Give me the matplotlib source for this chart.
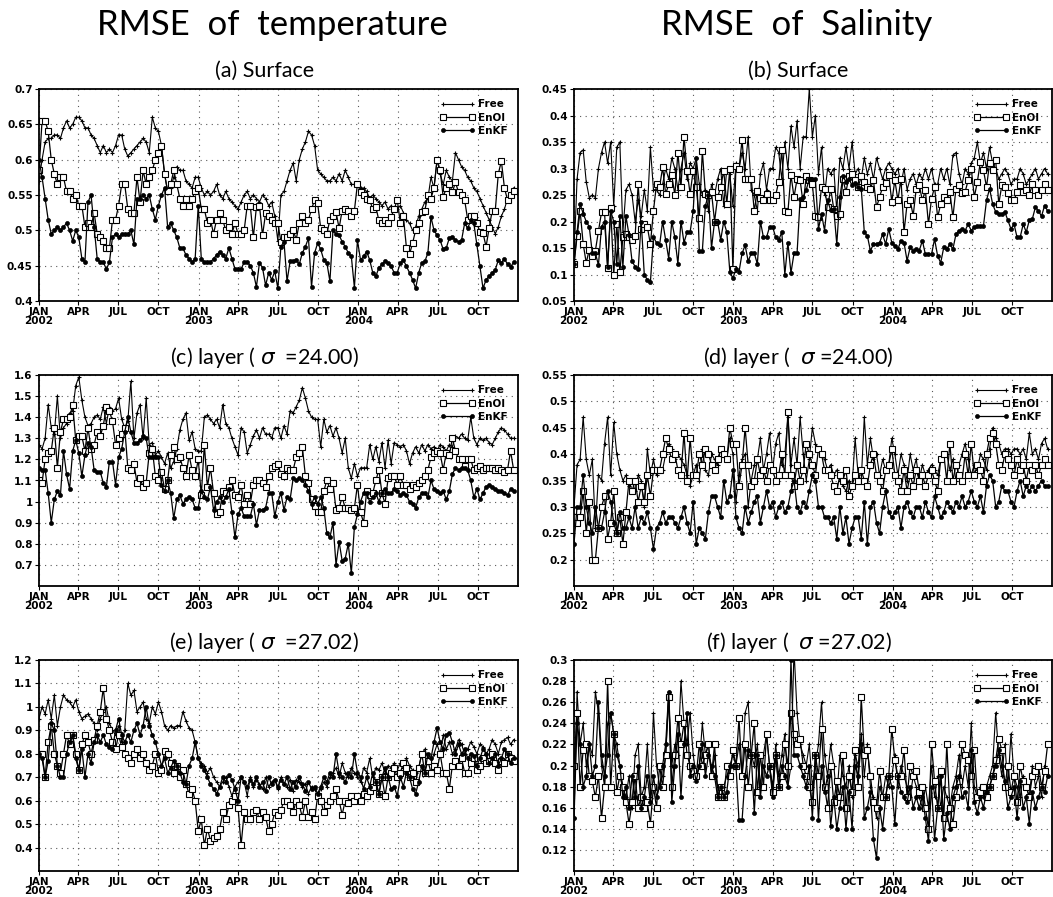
import numpy as np
import pandas as pd
import matplotlib
matplotlib.use("Agg")
import matplotlib.pyplot as plt
import matplotlib.dates as mdates

# ============================================================
# Weekly RMSE series, Jan 2002 - Dec 2004 (13 values per quarter)
# ============================================================
start_date = "2002-01-01"

# (a) temperature, surface
t_sfc_free = [
    0.57, 0.60, 0.625, 0.63, 0.63, 0.635, 0.635, 0.63, 0.645, 0.655, 0.645, 0.65, 0.66,
    0.66, 0.655, 0.645, 0.645, 0.635, 0.63, 0.62, 0.61, 0.62, 0.61, 0.615, 0.61, 0.62,
    0.635, 0.635, 0.615, 0.605, 0.61, 0.615, 0.62, 0.625, 0.63, 0.625, 0.61, 0.66, 0.645,
    0.64, 0.62, 0.58, 0.555, 0.56, 0.575, 0.59, 0.585, 0.585, 0.57, 0.565, 0.56, 0.575,
    0.575, 0.56, 0.55, 0.555, 0.55, 0.555, 0.565, 0.55, 0.545, 0.555, 0.545, 0.54, 0.535,
    0.53, 0.54, 0.55, 0.555, 0.545, 0.55, 0.545, 0.54, 0.55, 0.545, 0.535, 0.54, 0.52,
    0.485, 0.55, 0.555, 0.57, 0.585, 0.595, 0.57, 0.60, 0.615, 0.625, 0.64, 0.635, 0.62,
    0.585, 0.58, 0.575, 0.57, 0.57, 0.575, 0.57, 0.58, 0.57, 0.585, 0.575, 0.565, 0.565,
    0.565, 0.56, 0.56, 0.555, 0.545, 0.55, 0.545, 0.54, 0.535, 0.54, 0.53, 0.535, 0.53,
    0.53, 0.535, 0.525, 0.515, 0.51, 0.50, 0.505, 0.52, 0.53, 0.54, 0.545, 0.575, 0.56,
    0.60, 0.58, 0.565, 0.585, 0.575, 0.57, 0.61, 0.60, 0.59, 0.585, 0.575, 0.57, 0.56,
    0.555, 0.545, 0.535, 0.525, 0.515, 0.505, 0.495, 0.505, 0.52, 0.53, 0.545, 0.55, 0.56,
]
t_sfc_enoi = [
    0.585, 0.655, 0.655, 0.64, 0.60, 0.58, 0.565, 0.575, 0.575, 0.555, 0.555, 0.545, 0.55,
    0.535, 0.535, 0.505, 0.51, 0.505, 0.525, 0.495, 0.49, 0.485, 0.475, 0.475, 0.515, 0.515,
    0.535, 0.565, 0.565, 0.53, 0.525, 0.525, 0.575, 0.54, 0.585, 0.565, 0.575, 0.585, 0.60,
    0.61, 0.62, 0.58, 0.555, 0.565, 0.585, 0.565, 0.545, 0.535, 0.545, 0.535, 0.545, 0.555,
    0.56, 0.53, 0.53, 0.51, 0.515, 0.495, 0.515, 0.525, 0.515, 0.50, 0.505, 0.495, 0.51,
    0.495, 0.495, 0.50, 0.535, 0.535, 0.49, 0.533, 0.535, 0.493, 0.524, 0.52, 0.515, 0.51,
    0.51, 0.484, 0.49, 0.49, 0.495, 0.50, 0.487, 0.51, 0.52, 0.51, 0.515, 0.53, 0.543,
    0.538, 0.503, 0.50, 0.495, 0.515, 0.52, 0.526, 0.503, 0.528, 0.53, 0.528, 0.52, 0.528,
    0.566, 0.554, 0.55, 0.545, 0.543, 0.53, 0.533, 0.514, 0.51, 0.514, 0.51, 0.519, 0.53,
    0.543, 0.51, 0.52, 0.475, 0.466, 0.482, 0.50, 0.51, 0.526, 0.528, 0.55, 0.545, 0.56,
    0.60, 0.585, 0.547, 0.56, 0.566, 0.554, 0.568, 0.554, 0.55, 0.543, 0.515, 0.52, 0.52,
    0.51, 0.498, 0.496, 0.477, 0.503, 0.528, 0.528, 0.58, 0.598, 0.56, 0.543, 0.55, 0.555,
]
t_sfc_enkf = [
    0.60, 0.575, 0.545, 0.515, 0.495, 0.50, 0.505, 0.50, 0.505, 0.51, 0.50, 0.485, 0.50,
    0.49, 0.46, 0.455, 0.54, 0.55, 0.505, 0.46, 0.455, 0.455, 0.445, 0.455, 0.49, 0.495,
    0.49, 0.495, 0.495, 0.495, 0.50, 0.48, 0.545, 0.545, 0.55, 0.545, 0.55, 0.53, 0.515,
    0.535, 0.55, 0.56, 0.505, 0.51, 0.50, 0.49, 0.475, 0.475, 0.465, 0.46, 0.455, 0.46,
    0.535, 0.46, 0.455, 0.455, 0.455, 0.46, 0.465, 0.47, 0.465, 0.46, 0.475, 0.46, 0.445,
    0.445, 0.445, 0.455, 0.455, 0.45, 0.44, 0.42, 0.454, 0.447, 0.422, 0.44, 0.43, 0.442,
    0.418, 0.477, 0.484, 0.428, 0.456, 0.456, 0.458, 0.452, 0.468, 0.477, 0.489, 0.42, 0.468,
    0.482, 0.473, 0.458, 0.454, 0.428, 0.50, 0.495, 0.493, 0.484, 0.477, 0.468, 0.463, 0.419,
    0.486, 0.458, 0.463, 0.47, 0.458, 0.44, 0.435, 0.447, 0.452, 0.456, 0.454, 0.449, 0.44,
    0.44, 0.454, 0.458, 0.449, 0.44, 0.43, 0.418, 0.44, 0.454, 0.456, 0.468, 0.519, 0.50,
    0.493, 0.486, 0.473, 0.475, 0.489, 0.491, 0.486, 0.484, 0.486, 0.51, 0.503, 0.514, 0.51,
    0.48, 0.449, 0.418, 0.43, 0.435, 0.44, 0.444, 0.458, 0.454, 0.46, 0.452, 0.448, 0.455,
]

# (b) salinity, surface
s_sfc_free = [
    0.13, 0.28, 0.33, 0.335, 0.275, 0.245, 0.25, 0.245, 0.30, 0.33, 0.35, 0.31, 0.35,
    0.23, 0.34, 0.35, 0.18, 0.26, 0.27, 0.25, 0.20, 0.24, 0.21, 0.26, 0.22, 0.34,
    0.26, 0.26, 0.25, 0.27, 0.30, 0.28, 0.32, 0.30, 0.26, 0.30, 0.33, 0.28, 0.31,
    0.30, 0.32, 0.27, 0.25, 0.26, 0.22, 0.27, 0.25, 0.28, 0.30, 0.23, 0.30, 0.29,
    0.23, 0.31, 0.30, 0.33, 0.30, 0.36, 0.26, 0.25, 0.22, 0.29, 0.31, 0.26, 0.30,
    0.30, 0.34, 0.33, 0.28, 0.35, 0.30, 0.38, 0.34, 0.39, 0.30, 0.36, 0.36, 0.45,
    0.36, 0.40, 0.29, 0.34, 0.25, 0.30, 0.29, 0.30, 0.22, 0.32, 0.30, 0.34, 0.30,
    0.35, 0.29, 0.30, 0.28, 0.32, 0.29, 0.31, 0.28, 0.32, 0.30, 0.28, 0.30, 0.31,
    0.30, 0.29, 0.30, 0.27, 0.30, 0.26, 0.28, 0.29, 0.27, 0.29, 0.28, 0.30, 0.28,
    0.30, 0.27, 0.27, 0.30, 0.28, 0.30, 0.27, 0.325, 0.33, 0.29, 0.27, 0.30, 0.29,
    0.31, 0.32, 0.35, 0.31, 0.33, 0.30, 0.34, 0.31, 0.30, 0.28, 0.29, 0.30, 0.29,
    0.27, 0.28, 0.28, 0.30, 0.29, 0.27, 0.28, 0.29, 0.30, 0.28, 0.29, 0.30, 0.29,
]
s_sfc_enoi = [
    0.12, 0.172, 0.22, 0.158, 0.122, 0.147, 0.135, 0.145, 0.182, 0.217, 0.217, 0.112, 0.226,
    0.099, 0.195, 0.104, 0.17, 0.176, 0.17, 0.165, 0.172, 0.27, 0.185, 0.195, 0.19, 0.157,
    0.22, 0.27, 0.265, 0.302, 0.252, 0.27, 0.287, 0.25, 0.33, 0.265, 0.36, 0.296, 0.252,
    0.296, 0.265, 0.207, 0.333, 0.252, 0.25, 0.255, 0.20, 0.246, 0.265, 0.296, 0.233, 0.30,
    0.11, 0.305, 0.30, 0.354, 0.28, 0.28, 0.28, 0.22, 0.258, 0.245, 0.24, 0.252, 0.24,
    0.24, 0.25, 0.275, 0.335, 0.22, 0.218, 0.288, 0.246, 0.28, 0.278, 0.233, 0.285, 0.278,
    0.27, 0.211, 0.208, 0.265, 0.262, 0.227, 0.262, 0.224, 0.211, 0.214, 0.28, 0.256, 0.285,
    0.29, 0.278, 0.265, 0.285, 0.275, 0.265, 0.262, 0.278, 0.227, 0.246, 0.265, 0.272, 0.288,
    0.237, 0.278, 0.24, 0.28, 0.18, 0.233, 0.24, 0.211, 0.262, 0.268, 0.24, 0.259, 0.195,
    0.243, 0.265, 0.208, 0.233, 0.246, 0.24, 0.256, 0.208, 0.262, 0.268, 0.253, 0.256, 0.278,
    0.30, 0.246, 0.275, 0.313, 0.297, 0.265, 0.31, 0.297, 0.316, 0.233, 0.268, 0.265, 0.253,
    0.24, 0.24, 0.256, 0.268, 0.256, 0.259, 0.25, 0.27, 0.26, 0.25, 0.26, 0.27, 0.26,
]
s_sfc_enkf = [
    0.12, 0.18, 0.233, 0.215, 0.20, 0.19, 0.14, 0.14, 0.118, 0.19, 0.20, 0.115, 0.22,
    0.20, 0.12, 0.21, 0.115, 0.21, 0.175, 0.125, 0.115, 0.11, 0.20, 0.10, 0.09, 0.085,
    0.17, 0.16, 0.155, 0.20, 0.165, 0.13, 0.20, 0.17, 0.12, 0.20, 0.16, 0.18, 0.18,
    0.22, 0.32, 0.145, 0.145, 0.23, 0.25, 0.15, 0.20, 0.20, 0.165, 0.20, 0.18, 0.105,
    0.093, 0.11, 0.105, 0.14, 0.155, 0.125, 0.14, 0.14, 0.12, 0.20, 0.17, 0.17, 0.19,
    0.19, 0.17, 0.165, 0.18, 0.10, 0.16, 0.103, 0.14, 0.14, 0.243, 0.246, 0.26, 0.28,
    0.28, 0.28, 0.186, 0.214, 0.183, 0.24, 0.221, 0.224, 0.157, 0.246, 0.285, 0.275, 0.28,
    0.268, 0.272, 0.265, 0.262, 0.18, 0.173, 0.145, 0.157, 0.157, 0.16, 0.176, 0.157, 0.186,
    0.16, 0.154, 0.148, 0.164, 0.16, 0.126, 0.151, 0.145, 0.148, 0.145, 0.164, 0.138, 0.138,
    0.138, 0.167, 0.135, 0.122, 0.151, 0.148, 0.157, 0.148, 0.176, 0.183, 0.186, 0.183, 0.195,
    0.183, 0.189, 0.192, 0.192, 0.192, 0.24, 0.262, 0.233, 0.218, 0.214, 0.214, 0.218, 0.202,
    0.186, 0.195, 0.17, 0.17, 0.195, 0.18, 0.202, 0.205, 0.227, 0.22, 0.21, 0.23, 0.22,
]

# (c) temperature, sigma = 24.00
t_l24_free = [
    1.27, 1.25, 1.30, 1.46, 1.35, 1.32, 1.50, 1.30, 1.35, 1.37, 1.42, 1.43, 1.55,
    1.59, 1.48, 1.40, 1.36, 1.37, 1.40, 1.41, 1.39, 1.45, 1.37, 1.45, 1.43, 1.44,
    1.49, 1.39, 1.35, 1.38, 1.57, 1.30, 1.42, 1.46, 1.30, 1.49, 1.27, 1.28, 1.22,
    1.24, 1.21, 1.18, 1.23, 1.16, 1.19, 1.25, 1.34, 1.39, 1.42, 1.29, 1.33, 1.25,
    1.24, 1.24, 1.40, 1.41, 1.39, 1.37, 1.39, 1.35, 1.46, 1.37, 1.35, 1.30, 1.26,
    1.22, 1.35, 1.33, 1.23, 1.27, 1.31, 1.34, 1.30, 1.35, 1.32, 1.32, 1.30, 1.35,
    1.35, 1.30, 1.36, 1.32, 1.43, 1.42, 1.45, 1.48, 1.54, 1.49, 1.43, 1.40, 1.39,
    1.39, 1.26, 1.39, 1.33, 1.36, 1.31, 1.35, 1.30, 1.23, 1.30, 1.16, 1.11, 1.18,
    1.12, 1.16, 1.16, 1.16, 1.27, 1.20, 1.26, 1.19, 1.28, 1.16, 1.29, 1.18, 1.28,
    1.27, 1.26, 1.27, 1.24, 1.18, 1.23, 1.26, 1.23, 1.27, 1.24, 1.27, 1.25, 1.26,
    1.24, 1.27, 1.26, 1.24, 1.27, 1.26, 1.31, 1.30, 1.32, 1.30, 1.29, 1.40, 1.30,
    1.27, 1.30, 1.29, 1.30, 1.28, 1.27, 1.30, 1.33, 1.35, 1.34, 1.32, 1.30, 1.30,
]
t_l24_enoi = [
    1.10, 1.09, 1.20, 1.23, 1.24, 1.35, 1.16, 1.33, 1.39, 1.39, 1.40, 1.46, 1.29,
    1.31, 1.31, 1.24, 1.35, 1.25, 1.27, 1.33, 1.31, 1.36, 1.45, 1.43, 1.38, 1.27,
    1.30, 1.32, 1.35, 1.16, 1.15, 1.18, 1.09, 1.11, 1.07, 1.09, 1.23, 1.25, 1.12,
    1.10, 1.14, 1.06, 1.10, 1.22, 1.26, 1.20, 1.21, 1.16, 1.12, 1.22, 1.15, 1.12,
    1.20, 1.03, 1.27, 1.07, 1.16, 1.04, 0.94, 0.95, 1.05, 1.04, 1.07, 1.10, 1.03,
    1.02, 1.08, 0.99, 1.03, 0.99, 1.08, 1.10, 1.10, 1.09, 1.07, 1.12, 1.16, 1.17,
    1.18, 1.13, 1.12, 1.16, 1.15, 1.15, 1.21, 1.23, 1.26, 1.12, 1.09, 1.01, 0.98,
    0.95, 0.95, 1.05, 1.10, 1.06, 1.09, 0.96, 0.97, 1.02, 0.97, 0.97, 0.96, 0.97,
    1.08, 0.95, 0.90, 1.05, 1.03, 1.04, 1.10, 1.15, 1.04, 0.99, 1.11, 1.12, 1.12,
    1.08, 1.12, 1.08, 1.08, 1.06, 1.08, 1.07, 1.09, 1.10, 1.12, 1.15, 1.21, 1.23,
    1.24, 1.23, 1.15, 1.23, 1.22, 1.30, 1.24, 1.20, 1.20, 1.17, 1.20, 1.20, 1.15,
    1.16, 1.17, 1.15, 1.16, 1.16, 1.16, 1.15, 1.16, 1.15, 1.14, 1.15, 1.24, 1.15,
]
t_l24_enkf = [
    1.16, 1.15, 1.15, 1.04, 0.90, 1.01, 1.05, 1.03, 1.24, 1.13, 1.06, 1.24, 1.29,
    1.23, 1.12, 1.22, 1.28, 1.26, 1.15, 1.14, 1.14, 1.09, 1.07, 1.19, 1.19, 1.08,
    1.21, 1.25, 1.33, 1.40, 1.33, 1.28, 1.28, 1.29, 1.31, 1.30, 1.21, 1.21, 1.21,
    1.21, 1.08, 1.05, 1.10, 1.04, 0.92, 1.01, 1.03, 0.99, 1.01, 1.02, 1.01, 0.97,
    0.97, 1.05, 1.02, 1.01, 1.07, 0.96, 1.00, 1.02, 1.00, 1.02, 1.06, 0.95, 0.83,
    0.94, 0.97, 0.93, 0.93, 0.93, 0.99, 0.89, 0.96, 0.96, 0.97, 1.04, 1.04, 0.93,
    1.00, 1.04, 0.96, 1.02, 1.01, 1.11, 1.10, 1.11, 1.10, 1.08, 1.05, 0.99, 1.02,
    0.99, 1.02, 0.97, 0.85, 0.83, 0.90, 0.70, 0.81, 0.72, 0.73, 0.80, 0.66, 0.88,
    0.94, 1.00, 1.04, 1.04, 1.00, 1.02, 1.04, 1.00, 1.04, 1.06, 1.04, 1.04, 1.06,
    1.05, 1.03, 1.04, 1.03, 1.00, 0.99, 0.97, 1.02, 1.04, 1.04, 1.02, 1.10, 1.06,
    1.05, 1.04, 1.05, 1.01, 1.05, 1.13, 1.16, 1.15, 1.16, 1.16, 1.15, 1.10, 1.02,
    1.06, 1.01, 1.04, 1.07, 1.08, 1.07, 1.06, 1.05, 1.05, 1.04, 1.03, 1.06, 1.05,
]

# (d) salinity, sigma = 24.00
s_l24_free = [
    0.30, 0.38, 0.39, 0.47, 0.39, 0.36, 0.39, 0.26, 0.36, 0.35, 0.42, 0.47, 0.36,
    0.46, 0.40, 0.37, 0.35, 0.36, 0.34, 0.35, 0.33, 0.36, 0.35, 0.30, 0.41, 0.36,
    0.39, 0.36, 0.37, 0.37, 0.40, 0.42, 0.41, 0.39, 0.40, 0.39, 0.38, 0.36, 0.34,
    0.36, 0.38, 0.35, 0.41, 0.37, 0.36, 0.40, 0.39, 0.38, 0.41, 0.40, 0.39, 0.43,
    0.40, 0.31, 0.36, 0.39, 0.40, 0.30, 0.35, 0.38, 0.39, 0.43, 0.37, 0.40, 0.44,
    0.37, 0.42, 0.44, 0.38, 0.40, 0.47, 0.38, 0.43, 0.38, 0.47, 0.40, 0.35, 0.39,
    0.45, 0.42, 0.41, 0.40, 0.39, 0.37, 0.38, 0.36, 0.37, 0.35, 0.34, 0.33, 0.35,
    0.34, 0.43, 0.36, 0.35, 0.47, 0.38, 0.43, 0.39, 0.40, 0.36, 0.39, 0.37, 0.38,
    0.43, 0.40, 0.36, 0.40, 0.38, 0.35, 0.40, 0.37, 0.39, 0.35, 0.38, 0.36, 0.37,
    0.38, 0.37, 0.36, 0.39, 0.40, 0.40, 0.37, 0.39, 0.35, 0.38, 0.40, 0.42, 0.39,
    0.36, 0.38, 0.37, 0.40, 0.39, 0.37, 0.41, 0.45, 0.43, 0.42, 0.40, 0.41, 0.41,
    0.40, 0.41, 0.41, 0.40, 0.41, 0.39, 0.44, 0.40, 0.41, 0.39, 0.42, 0.43, 0.41,
]
s_l24_enoi = [
    0.28, 0.27, 0.28, 0.33, 0.25, 0.31, 0.20, 0.20, 0.26, 0.30, 0.32, 0.24, 0.27,
    0.33, 0.25, 0.28, 0.23, 0.29, 0.35, 0.33, 0.35, 0.31, 0.34, 0.31, 0.36, 0.32,
    0.37, 0.37, 0.37, 0.40, 0.43, 0.41, 0.39, 0.40, 0.37, 0.36, 0.44, 0.35, 0.43,
    0.36, 0.36, 0.40, 0.38, 0.41, 0.40, 0.38, 0.37, 0.39, 0.41, 0.40, 0.39, 0.45,
    0.42, 0.42, 0.34, 0.38, 0.45, 0.38, 0.34, 0.35, 0.39, 0.36, 0.37, 0.35, 0.38,
    0.37, 0.35, 0.36, 0.40, 0.36, 0.48, 0.36, 0.34, 0.38, 0.35, 0.37, 0.42, 0.40,
    0.38, 0.36, 0.41, 0.40, 0.37, 0.37, 0.36, 0.34, 0.33, 0.36, 0.35, 0.37, 0.32,
    0.34, 0.36, 0.35, 0.37, 0.35, 0.34, 0.38, 0.40, 0.36, 0.35, 0.33, 0.37, 0.38,
    0.41, 0.36, 0.35, 0.33, 0.37, 0.33, 0.36, 0.34, 0.37, 0.35, 0.36, 0.34, 0.36,
    0.37, 0.35, 0.33, 0.39, 0.40, 0.35, 0.42, 0.35, 0.38, 0.36, 0.35, 0.40, 0.36,
    0.42, 0.36, 0.38, 0.37, 0.35, 0.40, 0.43, 0.44, 0.42, 0.38, 0.37, 0.40, 0.39,
    0.38, 0.36, 0.39, 0.37, 0.38, 0.35, 0.38, 0.37, 0.38, 0.36, 0.38, 0.39, 0.38,
]
s_l24_enkf = [
    0.23, 0.30, 0.30, 0.36, 0.30, 0.27, 0.25, 0.30, 0.26, 0.26, 0.29, 0.33, 0.31,
    0.27, 0.25, 0.29, 0.26, 0.26, 0.28, 0.26, 0.30, 0.26, 0.28, 0.27, 0.29, 0.26,
    0.22, 0.26, 0.27, 0.29, 0.27, 0.28, 0.28, 0.27, 0.26, 0.28, 0.30, 0.27, 0.25,
    0.31, 0.23, 0.26, 0.25, 0.24, 0.29, 0.32, 0.32, 0.30, 0.28, 0.35, 0.31, 0.32,
    0.37, 0.28, 0.26, 0.25, 0.30, 0.27, 0.29, 0.31, 0.32, 0.27, 0.30, 0.33, 0.30,
    0.31, 0.28, 0.30, 0.31, 0.29, 0.30, 0.33, 0.35, 0.30, 0.29, 0.31, 0.30, 0.33,
    0.36, 0.35, 0.30, 0.30, 0.28, 0.28, 0.27, 0.28, 0.24, 0.30, 0.25, 0.28, 0.23,
    0.26, 0.28, 0.28, 0.24, 0.31, 0.23, 0.30, 0.31, 0.27, 0.25, 0.30, 0.33, 0.29,
    0.28, 0.29, 0.30, 0.26, 0.30, 0.31, 0.29, 0.28, 0.30, 0.30, 0.28, 0.31, 0.29,
    0.28, 0.32, 0.30, 0.28, 0.29, 0.31, 0.30, 0.29, 0.31, 0.30, 0.32, 0.30, 0.31,
    0.33, 0.31, 0.30, 0.32, 0.29, 0.34, 0.36, 0.35, 0.30, 0.31, 0.34, 0.33, 0.33,
    0.31, 0.30, 0.33, 0.35, 0.32, 0.34, 0.33, 0.34, 0.33, 0.34, 0.35, 0.34, 0.34,
]

# (e) temperature, sigma = 27.02
t_l27_free = [
    0.95, 1.00, 0.97, 1.03, 0.95, 1.05, 0.92, 1.00, 1.05, 1.03, 1.02, 1.00, 1.03,
    0.98, 0.95, 0.96, 0.97, 0.95, 0.93, 0.90, 0.95, 0.98, 1.00, 0.93, 0.90, 0.88,
    0.92, 0.85, 0.90, 1.10, 1.05, 1.07, 0.98, 1.00, 1.02, 0.95, 0.93, 1.00, 0.97,
    1.02, 0.98, 0.92, 0.90, 0.92, 0.91, 0.92, 0.92, 0.98, 0.94, 0.91, 0.90, 0.85,
    0.78, 0.76, 0.75, 0.72, 0.74, 0.70, 0.68, 0.66, 0.68, 0.70, 0.66, 0.62, 0.66,
    0.68, 0.70, 0.68, 0.62, 0.70, 0.66, 0.69, 0.67, 0.65, 0.70, 0.66, 0.68, 0.69,
    0.65, 0.70, 0.67, 0.66, 0.69, 0.64, 0.69, 0.68, 0.66, 0.67, 0.63, 0.66, 0.65,
    0.62, 0.65, 0.68, 0.66, 0.70, 0.72, 0.74, 0.70, 0.76, 0.72, 0.70, 0.74, 0.72,
    0.70, 0.68, 0.74, 0.72, 0.78, 0.70, 0.74, 0.73, 0.76, 0.72, 0.75, 0.74, 0.76,
    0.73, 0.76, 0.74, 0.78, 0.75, 0.73, 0.72, 0.74, 0.80, 0.82, 0.78, 0.76, 0.80,
    0.84, 0.80, 0.88, 0.82, 0.85, 0.80, 0.82, 0.86, 0.84, 0.80, 0.82, 0.85, 0.83,
    0.80, 0.84, 0.83, 0.80, 0.82, 0.86, 0.84, 0.80, 0.85, 0.86, 0.87, 0.84, 0.86,
]
t_l27_enoi = [
    0.80, 0.80, 0.70, 0.85, 0.92, 0.80, 0.75, 0.72, 0.80, 0.88, 0.84, 0.88, 0.80,
    0.73, 0.84, 0.88, 0.85, 0.80, 0.86, 0.92, 0.98, 1.08, 0.95, 0.90, 0.85, 0.82,
    0.88, 0.83, 0.80, 0.78, 0.76, 0.80, 0.82, 0.78, 0.80, 0.76, 0.73, 0.75, 0.80,
    0.72, 0.73, 0.81, 0.80, 0.76, 0.72, 0.75, 0.70, 0.73, 0.67, 0.63, 0.65, 0.60,
    0.47, 0.52, 0.41, 0.48, 0.43, 0.44, 0.45, 0.48, 0.55, 0.52, 0.58, 0.60, 0.62,
    0.57, 0.41, 0.55, 0.52, 0.52, 0.55, 0.56, 0.52, 0.55, 0.53, 0.47, 0.50, 0.55,
    0.54, 0.56, 0.60, 0.60, 0.58, 0.55, 0.60, 0.58, 0.53, 0.60, 0.53, 0.55, 0.52,
    0.62, 0.60, 0.55, 0.58, 0.60, 0.62, 0.65, 0.60, 0.54, 0.60, 0.59, 0.62, 0.60,
    0.62, 0.60, 0.63, 0.62, 0.64, 0.66, 0.68, 0.63, 0.70, 0.62, 0.70, 0.72, 0.74,
    0.70, 0.72, 0.76, 0.74, 0.70, 0.72, 0.68, 0.74, 0.80, 0.72, 0.77, 0.72, 0.75,
    0.73, 0.80, 0.72, 0.72, 0.65, 0.75, 0.77, 0.75, 0.78, 0.72, 0.72, 0.76, 0.78,
    0.73, 0.75, 0.78, 0.76, 0.77, 0.80, 0.76, 0.73, 0.77, 0.76, 0.80, 0.78, 0.77,
]
t_l27_enkf = [
    0.80, 0.78, 0.70, 0.77, 0.93, 0.90, 0.75, 0.70, 0.70, 0.80, 0.85, 0.88, 0.78,
    0.73, 0.82, 0.70, 0.80, 0.76, 0.85, 0.88, 0.85, 0.88, 0.84, 0.83, 0.82, 0.90,
    0.95, 0.88, 0.85, 0.88, 0.85, 0.90, 0.93, 0.88, 0.92, 1.00, 0.92, 0.88, 0.85,
    0.80, 0.75, 0.78, 0.72, 0.74, 0.77, 0.75, 0.72, 0.68, 0.67, 0.75, 0.78, 0.85,
    0.78, 0.75, 0.73, 0.70, 0.67, 0.65, 0.63, 0.66, 0.70, 0.68, 0.71, 0.69, 0.65,
    0.60, 0.70, 0.68, 0.66, 0.69, 0.67, 0.70, 0.66, 0.68, 0.64, 0.70, 0.67, 0.69,
    0.66, 0.69, 0.67, 0.70, 0.65, 0.68, 0.66, 0.70, 0.67, 0.64, 0.68, 0.65, 0.66,
    0.63, 0.66, 0.70, 0.68, 0.72, 0.70, 0.80, 0.72, 0.70, 0.68, 0.72, 0.70, 0.80,
    0.72, 0.70, 0.65, 0.70, 0.66, 0.72, 0.68, 0.63, 0.70, 0.74, 0.70, 0.65, 0.66,
    0.62, 0.70, 0.66, 0.72, 0.70, 0.65, 0.63, 0.68, 0.75, 0.72, 0.80, 0.78, 0.85,
    0.91, 0.85, 0.82, 0.88, 0.89, 0.85, 0.80, 0.84, 0.80, 0.82, 0.78, 0.80, 0.79,
    0.75, 0.78, 0.82, 0.80, 0.76, 0.78, 0.80, 0.75, 0.78, 0.82, 0.80, 0.76, 0.78,
]

# (f) salinity, sigma = 27.02
s_l27_free = [
    0.15, 0.27, 0.22, 0.24, 0.20, 0.22, 0.21, 0.27, 0.25, 0.20, 0.18, 0.24, 0.25,
    0.23, 0.22, 0.20, 0.18, 0.17, 0.19, 0.16, 0.21, 0.22, 0.17, 0.18, 0.22, 0.17,
    0.25, 0.20, 0.18, 0.19, 0.21, 0.27, 0.20, 0.22, 0.21, 0.28, 0.24, 0.22, 0.25,
    0.21, 0.19, 0.20, 0.24, 0.21, 0.22, 0.19, 0.21, 0.18, 0.17, 0.18, 0.19, 0.20,
    0.21, 0.20, 0.22, 0.19, 0.25, 0.26, 0.21, 0.20, 0.22, 0.18, 0.21, 0.23, 0.20,
    0.18, 0.22, 0.19, 0.21, 0.23, 0.18, 0.20, 0.31, 0.25, 0.22, 0.21, 0.20, 0.22,
    0.18, 0.20, 0.22, 0.26, 0.21, 0.19, 0.22, 0.20, 0.17, 0.21, 0.19, 0.18, 0.20,
    0.17, 0.21, 0.20, 0.23, 0.19, 0.22, 0.18, 0.17, 0.15, 0.18, 0.17, 0.19, 0.18,
    0.19, 0.21, 0.18, 0.20, 0.19, 0.18, 0.17, 0.19, 0.18, 0.17, 0.16, 0.18, 0.16,
    0.20, 0.17, 0.19, 0.16, 0.18, 0.17, 0.16, 0.18, 0.19, 0.21, 0.18, 0.20, 0.18,
    0.24, 0.18, 0.17, 0.18, 0.17, 0.18, 0.19, 0.20, 0.25, 0.21, 0.19, 0.22, 0.18,
    0.23, 0.19, 0.18, 0.17, 0.19, 0.18, 0.17, 0.20, 0.18, 0.19, 0.17, 0.20, 0.19,
]
s_l27_enoi = [
    0.20, 0.25, 0.18, 0.215, 0.22, 0.19, 0.185, 0.17, 0.19, 0.15, 0.18, 0.28, 0.18,
    0.23, 0.175, 0.19, 0.18, 0.165, 0.145, 0.165, 0.19, 0.16, 0.17, 0.16, 0.165, 0.145,
    0.18, 0.16, 0.20, 0.18, 0.21, 0.265, 0.18, 0.21, 0.245, 0.22, 0.24, 0.21, 0.20,
    0.195, 0.19, 0.22, 0.20, 0.21, 0.22, 0.19, 0.22, 0.17, 0.18, 0.17, 0.20, 0.19,
    0.215, 0.20, 0.245, 0.19, 0.22, 0.18, 0.21, 0.24, 0.175, 0.21, 0.18, 0.23, 0.20,
    0.175, 0.21, 0.18, 0.19, 0.22, 0.20, 0.25, 0.23, 0.22, 0.225, 0.20, 0.19, 0.18,
    0.165, 0.21, 0.19, 0.235, 0.18, 0.16, 0.20, 0.165, 0.185, 0.17, 0.21, 0.16, 0.19,
    0.175, 0.215, 0.18, 0.265, 0.21, 0.215, 0.19, 0.165, 0.16, 0.195, 0.17, 0.17, 0.19,
    0.235, 0.205, 0.19, 0.19, 0.215, 0.17, 0.20, 0.19, 0.195, 0.175, 0.18, 0.16, 0.14,
    0.22, 0.185, 0.16, 0.195, 0.15, 0.22, 0.16, 0.145, 0.17, 0.185, 0.22, 0.21, 0.205,
    0.19, 0.215, 0.17, 0.175, 0.18, 0.17, 0.18, 0.19, 0.205, 0.225, 0.215, 0.18, 0.20,
    0.175, 0.19, 0.165, 0.20, 0.185, 0.18, 0.17, 0.19, 0.195, 0.20, 0.18, 0.195, 0.22,
]
s_l27_enkf = [
    0.15, 0.24, 0.22, 0.18, 0.19, 0.22, 0.19, 0.20, 0.26, 0.21, 0.19, 0.21, 0.25,
    0.23, 0.21, 0.20, 0.17, 0.18, 0.16, 0.19, 0.17, 0.20, 0.16, 0.17, 0.19, 0.165,
    0.19, 0.17, 0.18, 0.20, 0.22, 0.27, 0.165, 0.20, 0.23, 0.17, 0.22, 0.25, 0.19,
    0.20, 0.185, 0.20, 0.22, 0.19, 0.21, 0.20, 0.19, 0.17, 0.18, 0.17, 0.175, 0.20,
    0.20, 0.20, 0.148, 0.148, 0.19, 0.215, 0.21, 0.155, 0.21, 0.17, 0.20, 0.19, 0.20,
    0.17, 0.21, 0.18, 0.20, 0.19, 0.18, 0.30, 0.21, 0.21, 0.20, 0.19, 0.18, 0.20,
    0.15, 0.21, 0.148, 0.20, 0.175, 0.19, 0.143, 0.17, 0.14, 0.16, 0.18, 0.14, 0.175,
    0.14, 0.20, 0.19, 0.22, 0.15, 0.16, 0.175, 0.13, 0.112, 0.16, 0.14, 0.17, 0.19,
    0.18, 0.145, 0.19, 0.175, 0.17, 0.165, 0.18, 0.16, 0.17, 0.16, 0.17, 0.15, 0.128,
    0.18, 0.13, 0.16, 0.19, 0.13, 0.155, 0.14, 0.17, 0.18, 0.19, 0.17, 0.175, 0.16,
    0.215, 0.165, 0.155, 0.17, 0.16, 0.175, 0.18, 0.19, 0.20, 0.215, 0.20, 0.185, 0.16,
    0.17, 0.18, 0.15, 0.185, 0.16, 0.17, 0.145, 0.175, 0.16, 0.17, 0.18, 0.175, 0.19,
]

# ============================================================
# Panel definitions
# ============================================================
panels = [
    ("(a) Surface", (t_sfc_free, t_sfc_enoi, t_sfc_enkf), (0.4, 0.7), np.arange(0.4, 0.701, 0.05)),
    ("(b) Surface", (s_sfc_free, s_sfc_enoi, s_sfc_enkf), (0.05, 0.45), np.arange(0.05, 0.451, 0.05)),
    ("(c) layer ( $\\sigma$  =24.00)", (t_l24_free, t_l24_enoi, t_l24_enkf), (0.6, 1.6), np.arange(0.7, 1.601, 0.1)),
    ("(d) layer (  $\\sigma$ =24.00)", (s_l24_free, s_l24_enoi, s_l24_enkf), (0.15, 0.55), np.arange(0.2, 0.551, 0.05)),
    ("(e) layer ( $\\sigma$  =27.02)", (t_l27_free, t_l27_enoi, t_l27_enkf), (0.3, 1.2), np.arange(0.4, 1.201, 0.1)),
    ("(f) layer (  $\\sigma$ =27.02)", (s_l27_free, s_l27_enoi, s_l27_enkf), (0.1, 0.3), np.arange(0.12, 0.301, 0.02)),
]
labels = ["Free", "EnOI", "EnKF"]
styles = [
    dict(marker="+", ms=3.5, mew=0.8, lw=0.8),
    dict(marker="s", ms=3.8, mew=0.8, mfc="white", lw=0.9),
    dict(marker="o", ms=2.9, mew=0.5, mfc="black", lw=0.9),
]
title_font = ["Lato", "DejaVu Sans"]


def month_fmt(x, pos=None):
    d = mdates.num2date(x)
    s = d.strftime("%b").upper()
    if d.month == 1:
        s += "\n" + str(d.year)
    return s


W, H = 1053, 897
fig = plt.figure(figsize=(W / 100, H / 100), dpi=100)

# axes boxes in pixels: (left, right) and (top, bottom)
col_x = [(39, 518), (574, 1052)]
row_y = [(89, 301), (375, 586), (660, 871)]

for i, (title, series, ylim, yticks) in enumerate(panels):
    r, c = divmod(i, 2)
    x0, x1 = col_x[c]
    y0, y1 = row_y[r]
    ax = fig.add_axes([x0 / W, 1 - y1 / H, (x1 - x0) / W, (y1 - y0) / H])

    for vals, lab, st in zip(series, labels, styles):
        dates = pd.date_range(start_date, periods=len(vals), freq="7D")
        ax.plot(dates, vals, color="black", mec="black", label=lab, **st)

    ax.set_xlim(pd.Timestamp("2002-01-01"), pd.Timestamp("2004-12-31"))
    ax.set_ylim(*ylim)
    ax.set_yticks(yticks)
    ax.set_yticklabels([f"{v:g}" for v in np.round(yticks, 3)])
    ax.xaxis.set_major_locator(mdates.MonthLocator(bymonth=[1, 4, 7, 10]))
    ax.xaxis.set_major_formatter(plt.FuncFormatter(month_fmt))
    ax.tick_params(axis="both", labelsize=7.5, length=3, width=0.8, pad=1.5)
    for lbl in ax.get_xticklabels() + ax.get_yticklabels():
        lbl.set_fontweight("bold")
        lbl.set_linespacing(0.9)
    ax.grid(True, color="0.35", linestyle=(0, (1, 4)), linewidth=0.8)
    for sp in ax.spines.values():
        sp.set_linewidth(1.3)

    ax.text(0.47, 1.085, title, transform=ax.transAxes, ha="center", va="center",
            fontsize=15.5, family=title_font)

    leg = ax.legend(loc="upper right", frameon=False, fontsize=7.5, numpoints=2,
                    handlelength=3.4, handletextpad=0.3, labelspacing=0.3,
                    borderaxespad=0.6)
    for t in leg.get_texts():
        t.set_fontweight("bold")

fig.text(272 / W, 1 - 25 / H, "RMSE  of  temperature", ha="center", va="center",
         fontsize=25, family=title_font)
fig.text(797 / W, 1 - 25 / H, "RMSE  of  Salinity", ha="center", va="center",
         fontsize=25, family=title_font)

fig.savefig("out.png", dpi=100)
